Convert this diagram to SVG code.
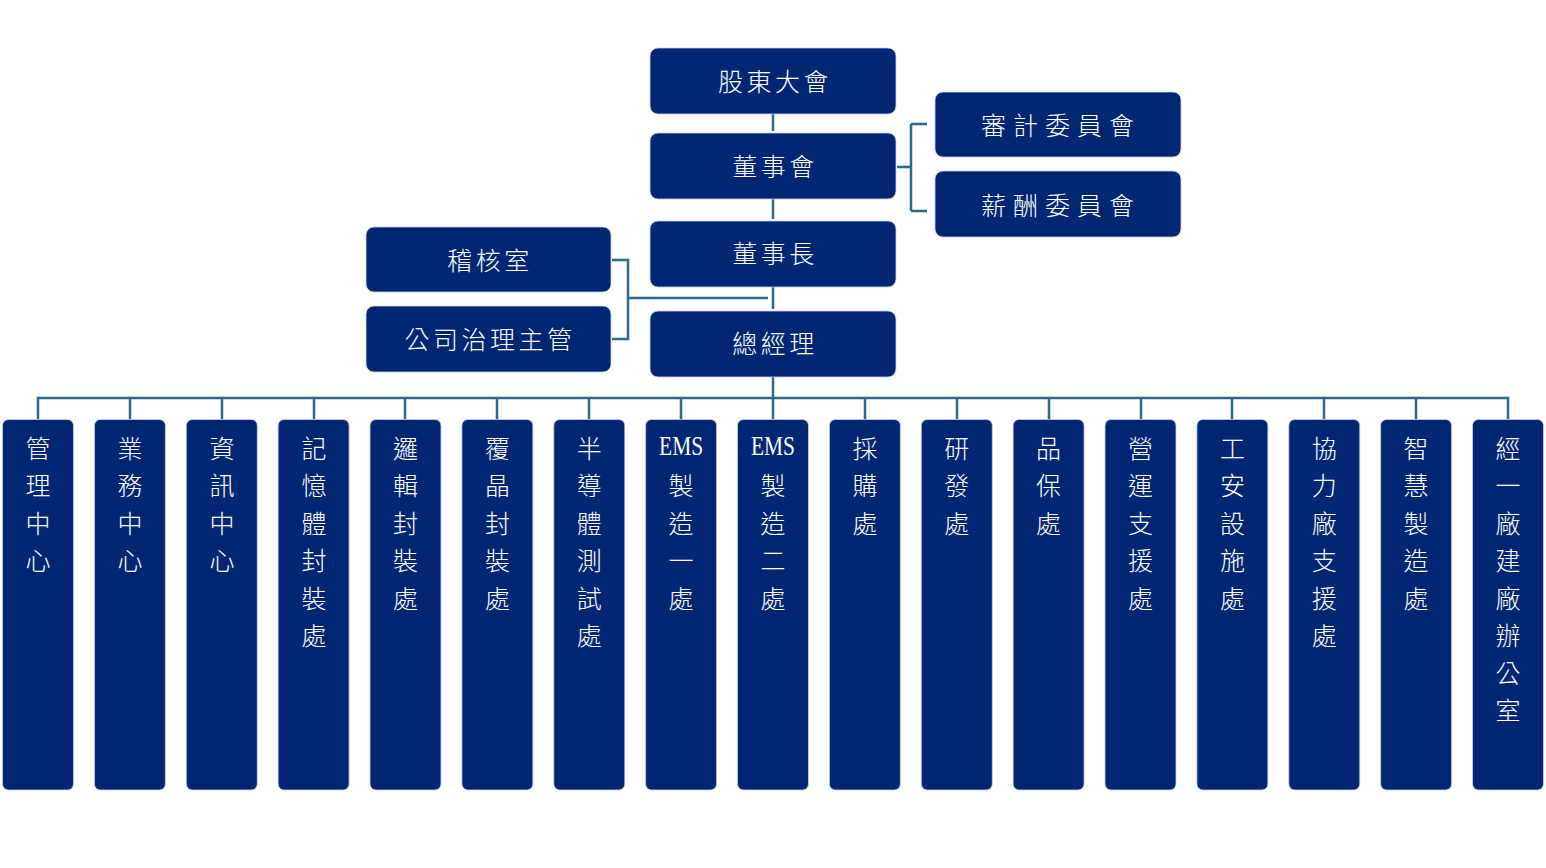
<svg xmlns="http://www.w3.org/2000/svg" width="1546" height="868" viewBox="0 0 1546 868">
<style>
.box{fill:#022672;stroke:#c9d3e6;stroke-width:0.8}
.t{fill:#ffffff;font-family:"Noto Sans CJK TC","Noto Sans CJK SC",sans-serif;font-weight:300;font-size:25px;text-anchor:middle;dominant-baseline:central;letter-spacing:3.5px}
.tw{letter-spacing:7px}
.v{fill:#ffffff;font-family:"Noto Sans CJK TC","Noto Sans CJK SC",sans-serif;font-weight:300;font-size:25px;text-anchor:middle;dominant-baseline:central}
.ems{font-family:"Liberation Serif",serif;font-weight:400;font-size:27px}
.alt{font-family:"Noto Sans CJK JP","Noto Sans CJK SC",sans-serif}
.ln{fill:none;stroke:#2a6a8a;stroke-width:2.5}
</style>
<rect width="1546" height="868" fill="#ffffff"/>
<g id="connectors">
<path class="ln" d="M773 114 V131 M773 199 V219 M773 287 V309 M773 377 V419"/>
<path class="ln" d="M897 167 H911 M911 124 V211 M911 124 H927 M911 211 H927"/>
<path class="ln" d="M612 260 H628 V339 H612 M628 298 H768"/>
<path class="ln" d="M38 419 V398 H1508 V419 M130 398 V419 M222 398 V419 M314 398 V419 M405 398 V419 M497 398 V419 M589 398 V419 M681 398 V419 M865 398 V419 M957 398 V419 M1049 398 V419 M1141 398 V419 M1232 398 V419 M1324 398 V419 M1416 398 V419"/>
</g>
<g id="n-shareholders"><rect class="box" x="650" y="48" width="246" height="66" rx="8"/><text class="t" x="775" y="79.5">股東大會</text></g>
<g id="n-board"><rect class="box" x="650" y="133" width="246" height="66" rx="8"/><text class="t" x="775" y="164.5">董事會</text></g>
<g id="n-chairman"><rect class="box" x="650" y="221" width="246" height="66" rx="8"/><text class="t" x="775" y="252">董事長</text></g>
<g id="n-gm"><rect class="box" x="650" y="311" width="246" height="66" rx="8"/><text class="t" x="775" y="341.5">總經理</text></g>
<g id="n-audit-committee"><rect class="box" x="935" y="92" width="246" height="65" rx="8"/><text class="t tw" x="1061" y="123.5">審計委員會</text></g>
<g id="n-comp-committee"><rect class="box" x="935" y="171" width="246" height="66" rx="8"/><text class="t tw" x="1061" y="203.5">薪<tspan class="alt">酬</tspan>委員會</text></g>
<g id="n-audit-office"><rect class="box" x="366" y="227" width="245" height="65" rx="8"/><text class="t" x="490" y="258.5">稽核室</text></g>
<g id="n-governance"><rect class="box" x="366" y="306" width="245" height="66" rx="8"/><text class="t" x="490" y="338">公司治理主管</text></g>

<g id="c1"><rect class="box" x="2.5" y="419.5" width="71" height="370.5" rx="6"/><text class="v"><tspan x="38" y="446.5">管</tspan><tspan x="38" y="484">理</tspan><tspan x="38" y="521.5">中</tspan><tspan x="38" y="559">心</tspan></text></g>
<g id="c2"><rect class="box" x="94.4" y="419.5" width="71" height="370.5" rx="6"/><text class="v"><tspan x="130" y="446.5">業</tspan><tspan x="130" y="484">務</tspan><tspan x="130" y="521.5">中</tspan><tspan x="130" y="559">心</tspan></text></g>
<g id="c3"><rect class="box" x="186.3" y="419.5" width="71" height="370.5" rx="6"/><text class="v"><tspan x="222" y="446.5">資</tspan><tspan x="222" y="484">訊</tspan><tspan x="222" y="521.5">中</tspan><tspan x="222" y="559">心</tspan></text></g>
<g id="c4"><rect class="box" x="278.1" y="419.5" width="71" height="370.5" rx="6"/><text class="v"><tspan x="314" y="446.5">記</tspan><tspan x="314" y="484">憶</tspan><tspan x="314" y="521.5">體</tspan><tspan x="314" y="559">封</tspan><tspan x="314" y="596.5">裝</tspan><tspan x="314" y="634">處</tspan></text></g>
<g id="c5"><rect class="box" x="370" y="419.5" width="71" height="370.5" rx="6"/><text class="v"><tspan x="405.5" y="446.5">邏</tspan><tspan x="405.5" y="484">輯</tspan><tspan x="405.5" y="521.5">封</tspan><tspan x="405.5" y="559">裝</tspan><tspan x="405.5" y="596.5">處</tspan></text></g>
<g id="c6"><rect class="box" x="461.9" y="419.5" width="71" height="370.5" rx="6"/><text class="v"><tspan x="497.4" y="446.5">覆</tspan><tspan x="497.4" y="484">晶</tspan><tspan x="497.4" y="521.5">封</tspan><tspan x="497.4" y="559">裝</tspan><tspan x="497.4" y="596.5">處</tspan></text></g>
<g id="c7"><rect class="box" x="553.8" y="419.5" width="71" height="370.5" rx="6"/><text class="v"><tspan x="589.3" y="446.5">半</tspan><tspan x="589.3" y="484">導</tspan><tspan x="589.3" y="521.5">體</tspan><tspan x="589.3" y="559">測</tspan><tspan x="589.3" y="596.5">試</tspan><tspan x="589.3" y="634">處</tspan></text></g>
<g id="c8"><rect class="box" x="645.6" y="419.5" width="71" height="370.5" rx="6"/><text class="v"><tspan class="ems" x="681.1" y="446" textLength="44" lengthAdjust="spacingAndGlyphs">EMS</tspan><tspan x="681.1" y="484">製</tspan><tspan x="681.1" y="521.5">造</tspan><tspan x="681.1" y="559">一</tspan><tspan x="681.1" y="596.5">處</tspan></text></g>
<g id="c9"><rect class="box" x="737.5" y="419.5" width="71" height="370.5" rx="6"/><text class="v"><tspan class="ems" x="773" y="446" textLength="44" lengthAdjust="spacingAndGlyphs">EMS</tspan><tspan x="773" y="484">製</tspan><tspan x="773" y="521.5">造</tspan><tspan x="773" y="559">二</tspan><tspan x="773" y="596.5">處</tspan></text></g>
<g id="c10"><rect class="box" x="829.4" y="419.5" width="71" height="370.5" rx="6"/><text class="v"><tspan x="864.9" y="446.5">採</tspan><tspan x="864.9" y="484">購</tspan><tspan x="864.9" y="521.5">處</tspan></text></g>
<g id="c11"><rect class="box" x="921.3" y="419.5" width="71" height="370.5" rx="6"/><text class="v"><tspan x="956.8" y="446.5">研</tspan><tspan x="956.8" y="484">發</tspan><tspan x="956.8" y="521.5">處</tspan></text></g>
<g id="c12"><rect class="box" x="1013.1" y="419.5" width="71" height="370.5" rx="6"/><text class="v"><tspan x="1048.6" y="446.5">品</tspan><tspan x="1048.6" y="484">保</tspan><tspan x="1048.6" y="521.5">處</tspan></text></g>
<g id="c13"><rect class="box" x="1105" y="419.5" width="71" height="370.5" rx="6"/><text class="v"><tspan x="1140.5" y="446.5">營</tspan><tspan x="1140.5" y="484">運</tspan><tspan x="1140.5" y="521.5">支</tspan><tspan x="1140.5" y="559">援</tspan><tspan x="1140.5" y="596.5">處</tspan></text></g>
<g id="c14"><rect class="box" x="1196.9" y="419.5" width="71" height="370.5" rx="6"/><text class="v"><tspan x="1232.4" y="446.5">工</tspan><tspan x="1232.4" y="484">安</tspan><tspan x="1232.4" y="521.5">設</tspan><tspan x="1232.4" y="559">施</tspan><tspan x="1232.4" y="596.5">處</tspan></text></g>
<g id="c15"><rect class="box" x="1288.8" y="419.5" width="71" height="370.5" rx="6"/><text class="v"><tspan x="1324.3" y="446.5">協</tspan><tspan x="1324.3" y="484">力</tspan><tspan x="1324.3" y="521.5">廠</tspan><tspan x="1324.3" y="559">支</tspan><tspan x="1324.3" y="596.5">援</tspan><tspan x="1324.3" y="634">處</tspan></text></g>
<g id="c16"><rect class="box" x="1380.6" y="419.5" width="71" height="370.5" rx="6"/><text class="v"><tspan x="1416.1" y="446.5">智</tspan><tspan x="1416.1" y="484">慧</tspan><tspan x="1416.1" y="521.5">製</tspan><tspan x="1416.1" y="559">造</tspan><tspan x="1416.1" y="596.5">處</tspan></text></g>
<g id="c17"><rect class="box" x="1472.5" y="419.5" width="71" height="370.5" rx="6"/><text class="v"><tspan x="1508" y="446.5">經</tspan><tspan x="1508" y="484">一</tspan><tspan x="1508" y="521.5">廠</tspan><tspan x="1508" y="559">建</tspan><tspan x="1508" y="596.5">廠</tspan><tspan x="1508" y="634">辦</tspan><tspan x="1508" y="671.5">公</tspan><tspan x="1508" y="709">室</tspan></text></g>
</svg>
